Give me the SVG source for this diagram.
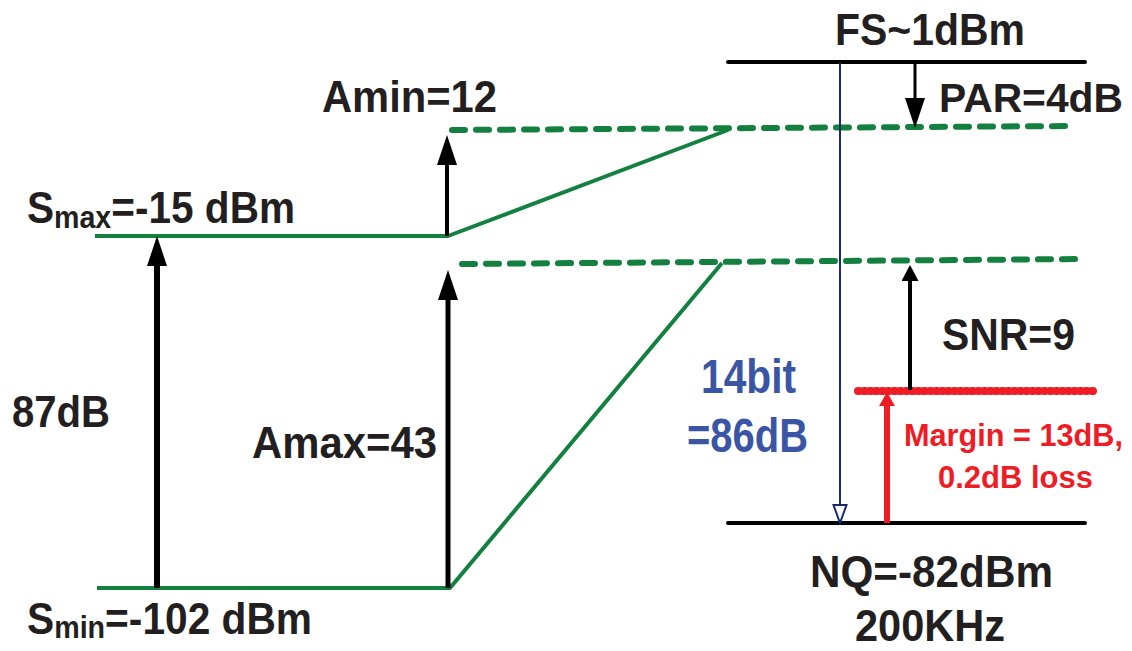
<svg xmlns="http://www.w3.org/2000/svg" width="1132" height="651" viewBox="0 0 1132 651">
<style>
  .t { font-family: "Liberation Sans", Arial, sans-serif; font-weight: bold; fill: #231f20; font-size: 44px; }
  .blue { fill: #3a55a4; font-size: 49px; }
  .red { fill: #ee1c25; font-size: 32px; }
  .sub { font-size: 31px; }
  .g { fill: none; stroke: #13803f; stroke-width: 4; stroke-linejoin: round; }
  .gd { fill: none; stroke: #13803f; stroke-width: 6; stroke-linecap: round; stroke-dasharray: 13 11; }
  .lvl { stroke: #000; stroke-width: 4; stroke-linecap: round; }
  .blk { stroke: #000; fill: none; }
</style>
<defs>
  <marker id="mBig" markerUnits="userSpaceOnUse" viewBox="0 0 30 20" refX="0" refY="10" markerWidth="30" markerHeight="20" orient="auto">
    <path d="M0,0 L30,10 L0,20 z" fill="#000"/>
  </marker>
  <marker id="mSmall" markerUnits="userSpaceOnUse" viewBox="0 0 16 17" refX="0" refY="8.5" markerWidth="16" markerHeight="17" orient="auto">
    <path d="M0,0 L16,8.5 L0,17 z" fill="#000"/>
  </marker>
  <marker id="mRed" markerUnits="userSpaceOnUse" viewBox="0 0 14 16" refX="0" refY="8" markerWidth="14" markerHeight="16" orient="auto">
    <path d="M0,0 L14,8 L0,16 z" fill="#ee1c25"/>
  </marker>
  <marker id="mBlue" markerUnits="userSpaceOnUse" viewBox="-2 -2 22 17" refX="0" refY="6.5" markerWidth="22" markerHeight="17" orient="auto">
    <path d="M0,0 L18,6.5 L0,13 z" fill="#fff" stroke="#1a2a6a" stroke-width="2" stroke-linejoin="miter"/>
  </marker>
</defs>

<g id="levels">
  <line class="lvl" x1="728" y1="62" x2="1085" y2="62"/>
  <line class="lvl" x1="728" y1="523" x2="1085" y2="523"/>
</g>

<g id="signal-paths">
  <path class="g" d="M95,236 H448 L728,130"/>
  <path class="g" d="M97,588 H450 L722,263"/>
  <path class="gd" d="M452,130 L1075,126"/>
  <path class="gd" d="M462,264 L1083,259"/>
  <path d="M858,391 H1097" fill="none" stroke="#ee1c25" stroke-width="8" stroke-linecap="round" stroke-dasharray="1 5"/>
</g>

<g id="connectors">
  <line class="blk" x1="157" y1="588" x2="157" y2="266" stroke-width="6" marker-end="url(#mBig)"/>
  <line class="blk" x1="447" y1="236" x2="447" y2="165" stroke-width="4" marker-end="url(#mBig)"/>
  <line class="blk" x1="448" y1="588" x2="448" y2="300" stroke-width="5" marker-end="url(#mBig)"/>
  <line class="blk" x1="915" y1="62" x2="915" y2="98" stroke-width="3" marker-end="url(#mBig)"/>
  <line class="blk" x1="910" y1="390" x2="910" y2="281" stroke-width="4" marker-end="url(#mSmall)"/>
  <line x1="887" y1="523" x2="887" y2="406" stroke="#ee1c25" stroke-width="6" marker-end="url(#mRed)"/>
  <line x1="840" y1="63" x2="840" y2="505" stroke="#1a2a6a" stroke-width="2" marker-end="url(#mBlue)"/>
</g>

<g id="labels">
  <text class="t" x="835" y="45" textLength="190" lengthAdjust="spacingAndGlyphs">FS~1dBm</text>
  <text class="t" x="939" y="112" font-size="41" style="font-size:41px" textLength="184" lengthAdjust="spacingAndGlyphs">PAR=4dB</text>
  <text class="t" x="322" y="112" textLength="175" lengthAdjust="spacingAndGlyphs">Amin=12</text>

  <text class="t" x="27" y="223" textLength="268" lengthAdjust="spacingAndGlyphs">S<tspan class="sub" dy="5">max</tspan><tspan dy="-5">=-15 dBm</tspan></text>

  <text class="t" x="12" y="427" textLength="98" lengthAdjust="spacingAndGlyphs">87dB</text>
  <text class="t" x="252" y="458" textLength="185" lengthAdjust="spacingAndGlyphs">Amax=43</text>

  <text class="t" x="27" y="634" textLength="285" lengthAdjust="spacingAndGlyphs">S<tspan class="sub" dy="4">min</tspan><tspan dy="-4">=-102 dBm</tspan></text>

  <text class="t blue" x="701" y="393" textLength="95" lengthAdjust="spacingAndGlyphs">14bit</text>
  <text class="t blue" x="687" y="452" textLength="121" lengthAdjust="spacingAndGlyphs">=86dB</text>

  <text class="t" x="942" y="350" textLength="133" lengthAdjust="spacingAndGlyphs">SNR=9</text>
  <text class="t red" x="904" y="446" textLength="219" lengthAdjust="spacingAndGlyphs">Margin = 13dB,</text>
  <text class="t red" x="938" y="488" textLength="155" lengthAdjust="spacingAndGlyphs">0.2dB loss</text>

  <text class="t" x="810" y="587" textLength="243" lengthAdjust="spacingAndGlyphs">NQ=-82dBm</text>
  <text class="t" x="855" y="641" textLength="150" lengthAdjust="spacingAndGlyphs">200KHz</text>
</g>
</svg>
